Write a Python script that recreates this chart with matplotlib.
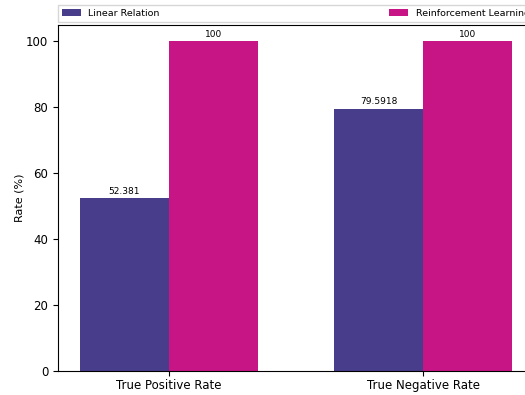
import matplotlib
matplotlib.use("Agg")
import matplotlib.pyplot as plt
import numpy as np

categories = ["True Positive Rate", "True Negative Rate"]
series_names = ["Linear Relation", "Reinforcement Learning"]
linear_vals = [52.381, 79.5918]
rl_vals = [100, 100]
colors = ["#483D8B", "#C71585"]

fig = plt.figure(figsize=(5.25, 3.95), dpi=100)
ax = fig.add_axes([0.1105, 0.0608, 0.906, 0.876])

x = np.arange(len(categories))
width = 0.35
b1 = ax.bar(x - width / 2, linear_vals, width, color=colors[0], label=series_names[0])
b2 = ax.bar(x + width / 2, rl_vals, width, color=colors[1], label=series_names[1])

ax.bar_label(b1, labels=[f"{v:g}" for v in linear_vals], padding=2, fontsize=6.5)
ax.bar_label(b2, labels=[f"{v:g}" for v in rl_vals], padding=2, fontsize=6.5)

ax.set_xticks(x)
ax.set_xticklabels(categories, fontsize=8.5)
ax.tick_params(axis="x", pad=2)
ax.tick_params(axis="y", labelsize=8.5)
ax.set_ylabel("Rate (%)", fontsize=8, labelpad=1)

ax.legend(loc="lower left", bbox_to_anchor=(0, 1.01, 1, 0.2), mode="expand",
          ncol=2, fontsize=6.8, frameon=True, borderaxespad=0, fancybox=False,
          handlelength=2.0)

fig.savefig("out.png", dpi=100)
